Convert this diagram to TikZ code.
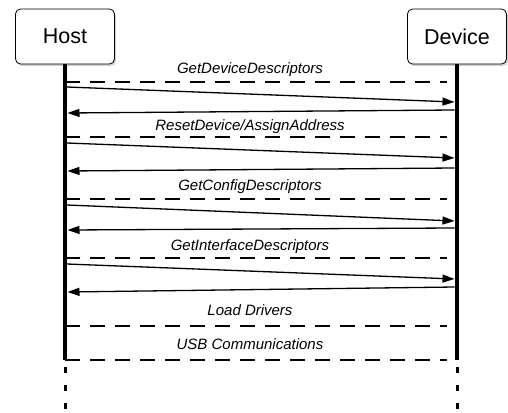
\documentclass[tikz,border=0pt]{standalone}
\usepackage{fontspec}
\setmainfont{Liberation Sans}
\usetikzlibrary{arrows.meta,shadows}
\begin{document}
\begin{tikzpicture}[x=1pt,y=-1pt,
  actor/.style={draw, rounded corners=5pt, line width=0.8pt, fill=white,
    minimum width=99pt, minimum height=55pt, inner sep=0pt,
    font=\fontsize{21.5}{24}\selectfont,
    drop shadow={shadow xshift=1.5pt, shadow yshift=-2pt, opacity=0.35}},
  life/.style={line width=4.5pt},
  lifedot/.style={line width=3pt, dash pattern=on 6pt off 12pt},
  phase/.style={line width=2.8pt, dash pattern=on 15pt off 10pt},
  msg/.style={line width=1.3pt, -{Triangle[length=12pt,width=8pt]}},
  lbl/.style={font=\fontsize{15}{18}\selectfont\itshape, inner sep=0pt, anchor=base},
]
\useasboundingbox (0,0) rectangle (508,412);

% actors
\node[actor] (host) at (65,36.5) {Host};
\node[actor] (dev) at (457,36.5) {Device};

% lifelines
\coordinate (hend) at (65,360);
\coordinate (dend) at (457,360);
\coordinate (hdot) at (65,367);
\coordinate (ddot) at (457,367);
\coordinate (hbot) at (65,412);
\coordinate (dbot) at (457,412);
\draw[life] (host.south) -- (hend);
\draw[life] (dev.south) -- (dend);
\draw[lifedot] (hdot) -- (hbot);
\draw[lifedot] (ddot) -- (dbot);

% phase separators and labels
\foreach \i/\yd/\yl/\txt in {1/82/74/GetDeviceDescriptors,
                            2/137/130.5/ResetDevice\slash AssignAddress,
                            3/199/190/GetConfigDescriptors,
                            4/258/250/GetInterfaceDescriptors,
                            5/326/315/Load Drivers,
                            6/360/349.3/USB Communications}{
  \coordinate (ph\i) at (65,\yd);
  \coordinate (pd\i) at (447,\yd);
  \draw[phase] (ph\i) -- (pd\i);
  \node[lbl] (lab\i) at (250,\yl) {\txt};
}

% request / response messages
\foreach \i/\ya/\yb/\yc/\ye in {1/87/102/110/113,
                               2/143/158/168/171,
                               3/205/221/228/230,
                               4/264/279/287/292}{
  \coordinate (rqh\i) at (67,\ya);
  \coordinate (rqd\i) at (454.5,\yb);
  \coordinate (rsd\i) at (454.5,\yc);
  \coordinate (rsh\i) at (67.5,\ye);
  \draw[msg] (rqh\i) -- (rqd\i);
  \draw[msg] (rsd\i) -- (rsh\i);
}
\end{tikzpicture}
\end{document}
